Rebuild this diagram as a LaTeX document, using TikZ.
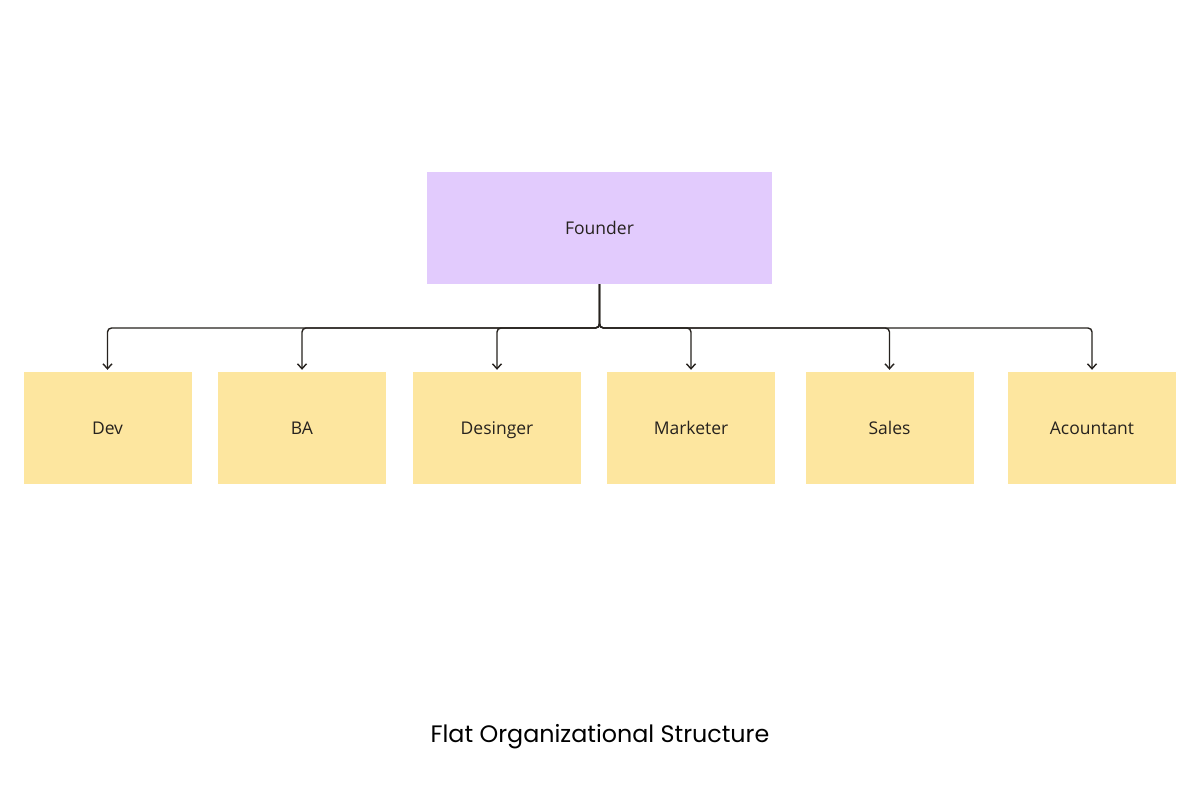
\documentclass[tikz,border=0pt]{standalone}
\usepackage{fontspec}
\setmainfont{Open Sans}
\newfontfamily\titlefont{Poppins}
\usetikzlibrary{arrows.meta}
\definecolor{founderfill}{HTML}{E2CBFD}
\definecolor{stickyfill}{HTML}{FDE69F}
\definecolor{ink}{HTML}{26221E}
\tikzset{
  x=1pt, y=-1pt,
  boxtext/.style={text=ink, font=\fontsize{17.5}{21}\selectfont, text height=12.5pt, text depth=0pt},
  founderbox/.style={boxtext, fill=founderfill, draw=none, minimum width=345pt, minimum height=112pt, inner sep=0pt},
  stickybox/.style={boxtext, fill=stickyfill, draw=none, minimum width=168pt, minimum height=112pt, inner sep=0pt},
  link/.style={draw=ink, line width=1.4pt, rounded corners=4pt, -{Straight Barb[length=5pt,width=9pt,line width=1.4pt]}, shorten >=2pt}
}
\begin{document}
\begin{tikzpicture}
\useasboundingbox (0,0) rectangle (1200,800);
\fill[white] (0,0) rectangle (1200,800);
\node[founderbox] (f) at (599.5,228) {Founder};
\node[stickybox] (dev) at (107.5,428) {Dev};
\node[stickybox] (ba) at (302,428) {BA};
\node[stickybox] (des) at (497,428) {Desinger};
\node[stickybox] (mkt) at (691,428) {Marketer};
\node[stickybox] (sal) at (889.5,428) {Sales};
\node[stickybox] (acc) at (1092,428) {Acountant};
\coordinate (bus) at (599.5,328);
\foreach \c in {dev,ba,des,mkt,sal,acc}{
  \draw[link] (f.south) -- (bus) -| (\c.north);
}
\node[text=black, font=\titlefont\fontsize{23.8}{28}\selectfont] (title) at (600,736.5) {Flat Organizational Structure};
\end{tikzpicture}
\end{document}
